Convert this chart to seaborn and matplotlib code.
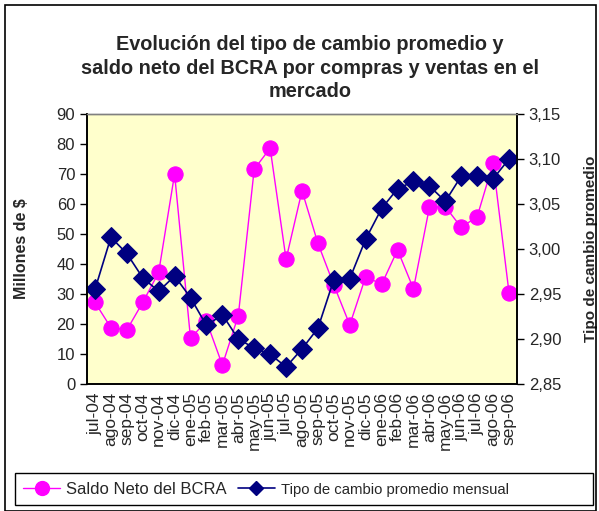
import numpy as np
import pandas as pd
import matplotlib
matplotlib.use("Agg")
import matplotlib.pyplot as plt
import seaborn as sns
from matplotlib.lines import Line2D
from matplotlib.patches import Rectangle

meses = ["jul-04", "ago-04", "sep-04", "oct-04", "nov-04", "dic-04",
         "ene-05", "feb-05", "mar-05", "abr-05", "may-05", "jun-05",
         "jul-05", "ago-05", "sep-05", "oct-05", "nov-05", "dic-05",
         "ene-06", "feb-06", "mar-06", "abr-06", "may-06", "jun-06",
         "jul-06", "ago-06", "sep-06"]

saldo_neto = [27.2, 18.8, 18.0, 27.2, 37.2, 70.0, 15.2, 21.0, 6.3, 22.8,
              71.6, 78.6, 41.6, 64.4, 46.9, 33.0, 19.7, 35.8, 33.2, 44.7,
              31.7, 58.9, 59.1, 52.2, 55.8, 73.6, 30.4]

tipo_cambio = [2.955, 3.013, 2.995, 2.968, 2.953, 2.970, 2.946, 2.915, 2.927,
               2.900, 2.890, 2.883, 2.869, 2.889, 2.912, 2.966, 2.967, 3.011,
               3.045, 3.067, 3.075, 3.070, 3.053, 3.081, 3.081, 3.078, 3.100]

df = pd.DataFrame({"mes": meses, "saldo": saldo_neto, "tc": tipo_cambio})
df["i"] = np.arange(len(df))

sns.set_style("white")
plt.rcParams["font.family"] = ["Liberation Sans", "DejaVu Sans"]

W, H = 599, 511
fig = plt.figure(figsize=(W / 100, H / 100), dpi=100)
ax = fig.add_axes([87 / W, 1 - 384 / H, 430 / W, 270 / H])
ax.set_facecolor("#FFFFCC")

sns.lineplot(data=df, x="i", y="saldo", ax=ax, color="#FF00FF", lw=1,
             marker="o", markersize=11, markeredgecolor="#FF00FF", sort=False)
ax2 = ax.twinx()
sns.lineplot(data=df, x="i", y="tc", ax=ax2, color="#000080", lw=1.2,
             marker="D", markersize=10, markeredgecolor="#000080", sort=False)

ax.set_xlim(-0.5, len(meses) - 0.5)
ax.set_ylim(0, 90)
ax.set_yticks(np.arange(0, 91, 10))
ax2.set_ylim(2.85, 3.15)
ax2.set_yticks(np.arange(2.85, 3.151, 0.05))
ax2.set_yticklabels([f"{v:.2f}".replace(".", ",") for v in np.arange(2.85, 3.151, 0.05)])

ax.set_xticks(df["i"])
ax.set_xticklabels(meses, rotation=90, fontsize=12.5)
ax.set_xticks(np.arange(-0.5, len(meses), 1), minor=True)
ax.tick_params(axis="x", which="major", length=0, pad=6)
ax.tick_params(axis="x", which="minor", length=5, direction="out", width=1, color="black")
ax.tick_params(axis="y", length=5, direction="out", width=1, color="black", labelsize=12, left=True)
ax2.tick_params(axis="y", length=5, direction="out", width=1, color="black", labelsize=12, right=True)

ax.set_xlabel("")
ax.set_ylabel("Millones de $", fontsize=11.5, fontweight="bold", labelpad=20)
ax2.set_ylabel("Tipo de cambio promedio", fontsize=11, fontweight="bold", labelpad=16)

for a in (ax, ax2):
    for s in ("left", "right", "bottom"):
        a.spines[s].set_color("black")
        a.spines[s].set_linewidth(1.2)
    a.spines["top"].set_color("#808080")
    a.spines["top"].set_linewidth(1)

fig.text(0.517, 1 - 68 / H,
         "Evolución del tipo de cambio promedio y\n"
         "saldo neto del BCRA por compras y ventas en el\n"
         "mercado",
         ha="center", va="center", fontsize=14.3, fontweight="bold", linespacing=1.3)

handles = [
    Line2D([], [], color="#FF00FF", lw=1, marker="o", markersize=10, markeredgecolor="#FF00FF"),
    Line2D([], [], color="#000080", lw=1.2, marker="D", markersize=7, markeredgecolor="#000080"),
]
leg = fig.legend(handles, ["Saldo Neto del BCRA", "Tipo de cambio promedio mensual"],
                 loc="center left", bbox_to_anchor=(20 / W, 1 - 489 / H), ncol=2,
                 fontsize=12, frameon=False, handlelength=2.2, handletextpad=0.35,
                 columnspacing=0.7, borderpad=0.2, borderaxespad=0)
leg.get_texts()[1].set_fontsize(10.7)
fig.patches.append(Rectangle((15 / W, 1 - 505 / H), 578 / W, 32 / H, transform=fig.transFigure,
                             fill=False, edgecolor="black", lw=1))

fig.patches.append(Rectangle((5 / W, 0), 591 / W, 1 - 5 / H, transform=fig.transFigure,
                             fill=False, edgecolor="black", lw=1.2))

fig.savefig("out.png", dpi=100)
